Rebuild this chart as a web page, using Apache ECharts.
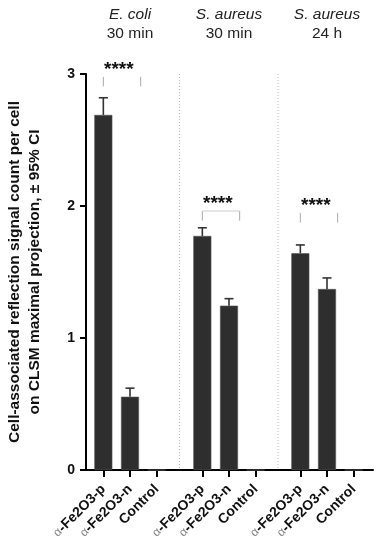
<!DOCTYPE html>
<html><head><meta charset="utf-8">
<script src="https://cdn.jsdelivr.net/npm/echarts@6/dist/echarts.min.js"></script>
<style>html,body{margin:0;padding:0;background:#fff}#c{width:383px;height:550px}</style>
</head><body><div id="c"></div>
<script>
const categories = ['α-Fe2O3-p', 'α-Fe2O3-n', 'Control'];
const groupTitles = [['E. coli', '30 min'], ['S. aureus', '30 min'], ['S. aureus', '24 h']];
const meanEcoli30 = [2.69, 0.555, 0];
const upperEcoli30 = [2.82, 0.62, null];
const meanSaureus30 = [1.773, 1.245, 0];
const upperSaureus30 = [1.835, 1.298, null];
const meanSaureus24 = [1.642, 1.371, 0];
const upperSaureus24 = [1.705, 1.455, null];
const sigBracketTop = [2.978, 1.962, 1.947];
const sigShowTopLine = [false, true, false];
const sigLabel = '****';
const yTicks = [0, 1, 2, 3];
const yTitle = ['Cell-associated reflection signal count per cell', 'on CLSM maximal projection, ± 95% CI'];

const means = [meanEcoli30, meanSaureus30, meanSaureus24];
const uppers = [upperEcoli30, upperSaureus30, upperSaureus24];

const FONT = 'Liberation Sans, Arial, sans-serif';
const TOP = 74, BOTTOM = 80;
const groupLefts = [90, 189, 287];
const GW = 80;

const chart = echarts.init(document.getElementById('c'), null, {renderer: 'canvas'});

const grids = [{left: 86, right: 10, top: TOP, bottom: BOTTOM}];
const xAxes = [{
  gridIndex: 0, type: 'value', min: 0, max: 1,
  axisLine: {show: true, lineStyle: {color: '#000', width: 2}},
  axisTick: {show: false}, axisLabel: {show: false}, splitLine: {show: false}
}];
const yAxes = [{
  gridIndex: 0, type: 'value', min: yTicks[0], max: yTicks[yTicks.length - 1], interval: 1,
  axisLine: {show: true, lineStyle: {color: '#000', width: 2}},
  axisTick: {show: true, length: 6, lineStyle: {color: '#000', width: 2}},
  axisLabel: {margin: 11, color: '#111', fontWeight: 'bold', fontSize: 14, fontFamily: FONT},
  splitLine: {show: false}
}];
const series = [];

function errRender(params, api) {
  const up = api.value(2);
  const m = api.value(1);
  if (up == null || isNaN(up)) return;
  const p0 = api.coord([api.value(0), m]);
  const p1 = api.coord([api.value(0), up]);
  const style = {stroke: '#333', lineWidth: 1.6};
  return {type: 'group', children: [
    {type: 'line', shape: {x1: p0[0], y1: p0[1], x2: p1[0], y2: p1[1]}, style},
    {type: 'line', shape: {x1: p1[0] - 4.5, y1: p1[1], x2: p1[0] + 4.5, y2: p1[1]}, style}
  ]};
}

for (let g = 0; g < 3; g++) {
  const gi = g + 1;
  grids.push({left: groupLefts[g], width: GW, top: TOP, bottom: BOTTOM});
  xAxes.push({
    gridIndex: gi, type: 'category', data: categories,
    axisLine: {show: false},
    axisTick: {show: true, alignWithLabel: true, length: 7, lineStyle: {color: '#000', width: 2}},
    axisLabel: {
      rotate: 45, margin: 17, interval: 0,
      formatter: v => v.startsWith('α') ? '{a|α}{b|' + v.slice(1) + '}' : '{b|' + v + '}',
      rich: {
        a: {fontSize: 12, color: '#888', fontFamily: FONT},
        b: {fontSize: 14, fontWeight: 'bold', color: '#111', fontFamily: FONT}
      }
    }
  });
  yAxes.push({gridIndex: gi, type: 'value', min: 0, max: 3, show: false});
  series.push({
    type: 'bar', xAxisIndex: gi, yAxisIndex: gi, barWidth: 18,
    data: means[g],
    itemStyle: {color: '#2e2e2e', borderColor: '#555', borderWidth: 0.6},
    silent: true, animation: false, z: 2
  });
  series.push({
    type: 'custom', xAxisIndex: gi, yAxisIndex: gi,
    data: categories.map((c, i) => [i, means[g][i], uppers[g][i]]),
    renderItem: errRender, silent: true, animation: false, z: 3
  });
}

chart.setOption({
  animation: false,
  grid: grids, xAxis: xAxes, yAxis: yAxes, series: series
});

const gfx = [];
const yBase = chart.convertToPixel({yAxisIndex: 0}, 0);
const yTop = chart.convertToPixel({yAxisIndex: 0}, 3);
for (let g = 0; g < 2; g++) {
  const x = (groupLefts[g] + GW + groupLefts[g + 1]) / 2;
  gfx.push({type: 'line', shape: {x1: x, y1: yTop, x2: x, y2: yBase},
    style: {stroke: '#bbb', lineWidth: 1, lineDash: [1, 2]}, silent: true});
}
for (let g = 0; g < 3; g++) {
  const gi = g + 1;
  const xp = chart.convertToPixel({xAxisIndex: gi}, categories[0]);
  const xn = chart.convertToPixel({xAxisIndex: gi}, categories[1]);
  const band = xn - xp;
  const xr = xp + 1.4 * band;
  const yb = chart.convertToPixel({yAxisIndex: gi}, sigBracketTop[g]);
  const st = {stroke: '#aaa', lineWidth: 1};
  gfx.push({type: 'line', shape: {x1: xp, y1: yb, x2: xp, y2: yb + 9.5}, style: st, silent: true});
  gfx.push({type: 'line', shape: {x1: xr, y1: yb, x2: xr, y2: yb + 9.5}, style: st, silent: true});
  if (sigShowTopLine[g]) gfx.push({type: 'line', shape: {x1: xp, y1: yb, x2: xr, y2: yb}, style: {stroke: '#ccc', lineWidth: 1}, silent: true});
  gfx.push({type: 'text', x: xp + 0.58 * band, y: yb - 7,
    style: {text: sigLabel, font: 'bold 19px ' + FONT, fill: '#111', align: 'center', verticalAlign: 'middle'}, silent: true});
  gfx.push({type: 'text', x: xn, y: 24,
    style: {
      text: '{i|' + groupTitles[g][0] + '}\n{n|' + groupTitles[g][1] + '}',
      align: 'center', verticalAlign: 'middle',
      rich: {
        i: {fontStyle: 'italic', fontSize: 15.5, fontFamily: FONT, fill: '#222', lineHeight: 19, align: 'center'},
        n: {fontSize: 15.5, fontFamily: FONT, fill: '#222', lineHeight: 19, align: 'center'}
      }
    }, silent: true});
}
gfx.push({type: 'text', x: 25, y: (yBase + yTop) / 2, rotation: Math.PI / 2,
  style: {text: yTitle.join('\n'), font: 'bold 15.5px ' + FONT, fill: '#111', align: 'center',
    verticalAlign: 'middle', lineHeight: 20}, silent: true});
chart.setOption({graphic: gfx});
</script></body></html>
